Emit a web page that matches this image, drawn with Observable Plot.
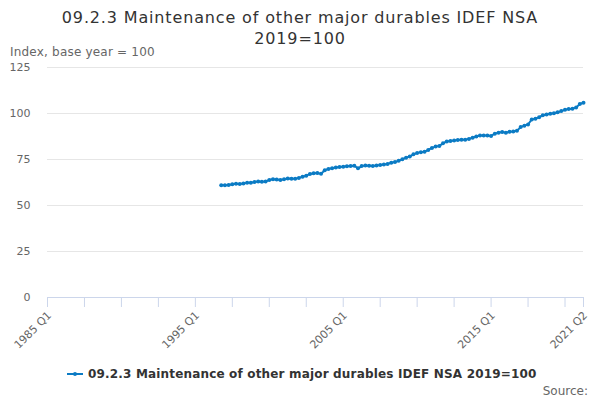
<!DOCTYPE html>
<html>
<head>
<meta charset="utf-8">
<script src="https://cdn.jsdelivr.net/npm/d3@7"></script>
<script src="https://cdn.jsdelivr.net/npm/@observablehq/plot@0.6"></script>
<style>
  html, body { margin: 0; padding: 0; background: #fff; }
  #chart { width: 600px; height: 400px; }
</style>
</head>
<body>
<div id="chart"></div>
<script>
// ---- Data ----
const titleLines = ["09.2.3 Maintenance of other major durables IDEF NSA", "2019=100"];
const yAxisTitle = "Index, base year = 100";
const seriesName = "09.2.3 Maintenance of other major durables IDEF NSA 2019=100";
const sourceText = "Source:";

const firstYear = 1985;
const lastYear = 2021;
const lastQuarter = 2;
const quarters = [];
for (let y = firstYear; y <= lastYear; y++) {
  for (let q = 1; q <= 4; q++) {
    if (y === lastYear && q > lastQuarter) break;
    quarters.push(`${y} Q${q}`);
  }
}
const seriesStart = "1996 Q4";
const values = [
  61.0,                    // 1996 Q4
  61.0, 61.1, 61.6, 61.8,  // 1997
  61.7, 62.0, 62.3, 62.4,  // 1998
  62.8, 63.0, 62.9, 63.0,  // 1999
  63.9, 64.3, 64.1, 63.9,  // 2000
  64.3, 64.7, 64.5, 64.6,  // 2001
  65.0, 65.6, 66.2, 67.1,  // 2002
  67.5, 67.7, 67.2, 69.2,  // 2003
  69.9, 70.3, 70.6, 70.9,  // 2004
  71.1, 71.3, 71.5, 71.6,  // 2005
  70.2, 71.4, 71.7, 71.6,  // 2006
  71.5, 71.8, 72.0, 72.3,  // 2007
  72.6, 73.2, 73.6, 74.3,  // 2008
  75.2, 76.0, 76.6, 77.8,  // 2009
  78.6, 79.0, 79.2, 80.2,  // 2010
  81.3, 82.0, 82.4, 83.8,  // 2011
  84.8, 85.1, 85.3, 85.6,  // 2012
  85.7, 85.8, 86.2, 86.8,  // 2013
  87.5, 88.0, 88.0, 88.1,  // 2014
  87.8, 89.0, 89.6, 89.9,  // 2015
  89.5, 90.1, 90.2, 90.6,  // 2016
  92.6, 93.4, 94.0, 96.8,  // 2017
  97.1, 98.0, 99.1, 99.5,  // 2018
  99.9, 100.1, 100.7, 101.3, // 2019
  102.0, 102.5, 102.6, 103.2, // 2020
  105.2, 105.8             // 2021
];
const yTicks = [0, 25, 50, 75, 100, 125];
const xTickEvery = 10;
const xLabelEvery = 40;

const startIdx = quarters.indexOf(seriesStart);
const data = values.map((v, i) => ({ quarter: quarters[startIdx + i], value: v }));
const xTicks = quarters.filter((q, i) => i % xTickEvery === 0 || i === quarters.length - 1);
const xLabels = quarters.filter((q, i) => i % xLabelEvery === 0 || i === quarters.length - 1);

// ---- Style ----
const FONT = "'DejaVu Sans', sans-serif";
const BLUE = "#0b7bc4";
const W = 600, H = 400;
const mT = 67, mB = 103, mL = 47, mR = 17;

const plot = Plot.plot({
  width: W,
  height: H,
  marginTop: mT,
  marginBottom: mB,
  marginLeft: mL,
  marginRight: mR,
  style: { fontFamily: FONT, fontSize: "11px", color: "#666", background: "#fff", overflow: "visible" },
  x: { type: "point", domain: quarters, padding: 0 },
  y: { domain: [0, 125] },
  marks: [
    Plot.gridY(yTicks.filter(d => d !== 0), { stroke: "#e6e6e6", strokeOpacity: 1 }),
    Plot.axisY(yTicks, { tickSize: 0, tickPadding: 17, label: null, fill: "#666", fontSize: 11 }),
    Plot.ruleY([0], { stroke: "#ccd6eb", strokeWidth: 1 }),
    Plot.axisX(xTicks, { tickSize: 10, stroke: "#ccd6eb", tickFormat: () => "", label: null }),
    Plot.axisX(xLabels, {
      tickSize: 0, tickPadding: 12, tickRotate: -45, label: null,
      fill: "#666", fontSize: 11, dx: 2, dy: 4
    }),
    Plot.line(data, { x: "quarter", y: "value", stroke: BLUE, strokeWidth: 2 }),
    Plot.dot(data, { x: "quarter", y: "value", fill: BLUE, r: 2 })
  ]
});

const svg = d3.select(plot);
// Title
svg.append("text").attr("x", W / 2).attr("y", 23).attr("text-anchor", "middle")
  .style("font-family", FONT).style("font-size", "16px").style("letter-spacing", "0.85px").attr("fill", "#333")
  .text(titleLines[0]);
svg.append("text").attr("x", W / 2).attr("y", 44).attr("text-anchor", "middle")
  .style("font-family", FONT).style("font-size", "16px").style("letter-spacing", "0.85px").attr("fill", "#333")
  .text(titleLines[1]);
// Y axis title
svg.append("text").attr("x", 10).attr("y", 56).attr("text-anchor", "start")
  .style("font-family", FONT).style("font-size", "12px").style("letter-spacing", "0.2px").attr("fill", "#666")
  .text(yAxisTitle);
// Legend
const lg = svg.append("g");
lg.append("text").attr("x", 88).attr("y", 378).attr("text-anchor", "start")
  .style("font-family", FONT).style("font-size", "12px").style("font-weight", "bold").style("letter-spacing", "0.17px").attr("fill", "#333")
  .text(seriesName);
lg.append("line").attr("x1", 67).attr("x2", 83).attr("y1", 374).attr("y2", 374)
  .attr("stroke", BLUE).attr("stroke-width", 2);
lg.append("circle").attr("cx", 75).attr("cy", 374).attr("r", 2).attr("fill", BLUE);
// Source
svg.append("text").attr("x", 588).attr("y", 395).attr("text-anchor", "end")
  .style("font-family", FONT).style("font-size", "12px").attr("fill", "#666")
  .text(sourceText);

document.getElementById("chart").appendChild(plot);
</script>
</body>
</html>
